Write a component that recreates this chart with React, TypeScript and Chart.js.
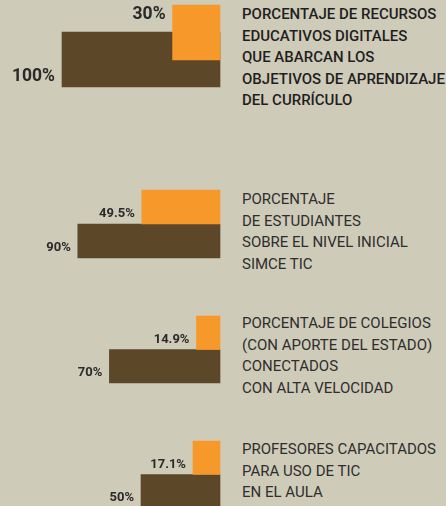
import React, { useEffect, useRef } from "react";
import { Chart, registerables } from "chart.js";

Chart.register(...registerables);

// ---- data ----
const rowLabels = ["Meta", "Actual"];
const metaValues = [100, 90, 70, 50];
const actualValues = [30, 49.5, 14.9, 17.1];
const valueLabels = [
  ["100%", "30%"],
  ["90%", "49.5%"],
  ["70%", "14.9%"],
  ["50%", "17.1%"],
];
const descriptions = [
  ["PORCENTAJE DE RECURSOS", "EDUCATIVOS DIGITALES", "QUE ABARCAN LOS", "OBJETIVOS DE APRENDIZAJE", "DEL CURRÍCULO"],
  ["PORCENTAJE", "DE ESTUDIANTES", "SOBRE EL NIVEL INICIAL", "SIMCE TIC"],
  ["PORCENTAJE DE COLEGIOS", "(CON APORTE DEL ESTADO)", "CONECTADOS", "CON ALTA VELOCIDAD"],
  ["PROFESORES CAPACITADOS", "PARA USO DE TIC", "EN EL AULA"],
];

// ---- layout / style ----
const BG = "#cfcbb9";
const ORANGE = "#f7992a";
const BROWN = "#5c4829";
const TEXT = "#2a2a2a";
const FONT = "Roboto, 'Noto Sans', sans-serif";

const layouts = [
  { top: 0, height: 92, padTop: 19, padBottom: 19, thickness: 55, fontSize: 17.5, descTop: 4, descWeight: 500, descColor: "#1f1f1f", topLabel: true },
  { top: 180, height: 88, padTop: 10, padBottom: 10, thickness: 34, fontSize: 13, descTop: 189, descWeight: 400, descColor: "#2e2e2e", topLabel: false },
  { top: 306, height: 87, padTop: 10, padBottom: 10, thickness: 33.5, fontSize: 13, descTop: 313, descWeight: 400, descColor: "#2e2e2e", topLabel: false },
  { top: 431, height: 87, padTop: 10, padBottom: 10, thickness: 33.5, fontSize: 13, descTop: 439, descWeight: 400, descColor: "#2e2e2e", topLabel: false },
];

const CANVAS_W = 230;

function GroupChart({ index }: { index: number }) {
  const ref = useRef<HTMLCanvasElement | null>(null);
  const lay = layouts[index];

  useEffect(() => {
    if (!ref.current) return;
    const labelPlugin = {
      id: "valueLabels",
      afterDatasetsDraw(chart: any) {
        const ctx = chart.ctx;
        const meta = chart.getDatasetMeta(0);
        ctx.save();
        ctx.fillStyle = TEXT;
        ctx.font = `bold ${lay.fontSize}px ${FONT}`;
        ctx.textAlign = "right";
        ctx.textBaseline = "middle";
        meta.data.forEach((bar: any, i: number) => {
          const props = bar.getProps(["x", "y", "height"], true);
          const left = props.x;
          const topY = props.y - props.height / 2;
          const botY = props.y + props.height / 2;
          let ty = botY - 10;
          if (lay.topLabel && i === 1) ty = topY + 10;
          ctx.fillText(valueLabels[index][i], left - 7, ty);
        });
        ctx.restore();
      },
    };

    const chart = new Chart(ref.current, {
      type: "bar",
      data: {
        labels: rowLabels,
        datasets: [
          {
            data: [metaValues[index], actualValues[index]],
            backgroundColor: [BROWN, ORANGE],
            borderWidth: 0,
            barThickness: lay.thickness,
            clip: false,
          } as any,
        ],
      },
      options: {
        indexAxis: "y",
        animation: false,
        responsive: false,
        layout: { padding: { left: 62, right: CANVAS_W - 220, top: lay.padTop, bottom: lay.padBottom } },
        plugins: { legend: { display: false }, tooltip: { enabled: false } },
        scales: {
          x: { type: "linear", min: 0, max: 100, reverse: true, display: false },
          y: { type: "category", reverse: true, display: false },
        },
      },
      plugins: [labelPlugin],
    });
    return () => chart.destroy();
  }, [index]);

  return (
    <canvas
      ref={ref}
      width={CANVAS_W}
      height={lay.height}
      style={{ position: "absolute", left: 0, top: lay.top, width: CANVAS_W, height: lay.height }}
    />
  );
}

export default function App() {
  return (
    <div
      style={{
        position: "fixed",
        left: 0,
        top: 0,
        width: 446,
        height: 506,
        background: BG,
        overflow: "hidden",
        fontFamily: FONT,
      }}
    >
      {layouts.map((lay, i) => (
        <React.Fragment key={i}>
          <GroupChart index={i} />
          <div
            style={{
              position: "absolute",
              left: 242,
              top: lay.descTop,
              fontSize: 15,
              lineHeight: "21.5px",
              fontWeight: lay.descWeight,
              color: lay.descColor,
              whiteSpace: "nowrap",
            }}
          >
            {descriptions[i].map((line, j) => (
              <div key={j}>{line}</div>
            ))}
          </div>
        </React.Fragment>
      ))}
    </div>
  );
}
